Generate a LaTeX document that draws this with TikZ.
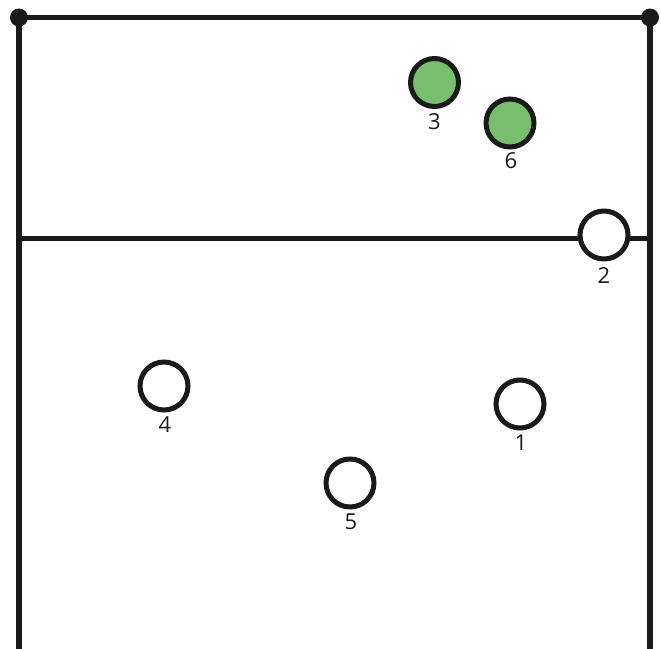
\documentclass[tikz,border=0pt]{standalone}
\usepackage{fontspec}
\setmainfont{Open Sans}
\definecolor{ink}{RGB}{26,26,26}
\definecolor{pgreen}{RGB}{120,190,110}
\begin{document}
\begin{tikzpicture}[x=1pt,y=-1pt,
  court/.style={draw=ink,line width=5.5pt},
  player/.style={circle,draw=ink,line width=5pt,minimum size=48pt,inner sep=0pt},
  front/.style={player,fill=pgreen},
  back/.style={player,fill=white},
  lbl/.style={font=\fontsize{22}{22}\selectfont,text=ink,inner sep=0pt}]
\useasboundingbox (0,0) rectangle (661,648);
\coordinate (tl) at (19,17.5);
\coordinate (tr) at (650,17.5);
\coordinate (bl) at (19,650);
\coordinate (br) at (650,650);
\coordinate (ml) at (19,238.5);
\coordinate (mr) at (650,238.5);
\draw[court] (bl) -- (tl) -- (tr) -- (br);
\draw[court] (ml) -- (mr);
\fill[ink] (tl) circle (9);
\fill[ink] (tr) circle (9);
\node[front] (p3) at (434.5,82.5) {};
\node[front] (p6) at (510,123) {};
\node[back] (p2) at (604,235) {};
\node[back] (p4) at (164,386) {};
\node[back] (p1) at (520,404) {};
\node[back] (p5) at (350,483) {};
\node[lbl] (l3) at (434.5,121.5) {3};
\node[lbl] (l6) at (511,161) {6};
\node[lbl] (l2) at (604,276) {2};
\node[lbl] (l4) at (165,425) {4};
\node[lbl] (l1) at (521,443) {1};
\node[lbl] (l5) at (351,522) {5};
\end{tikzpicture}
\end{document}
